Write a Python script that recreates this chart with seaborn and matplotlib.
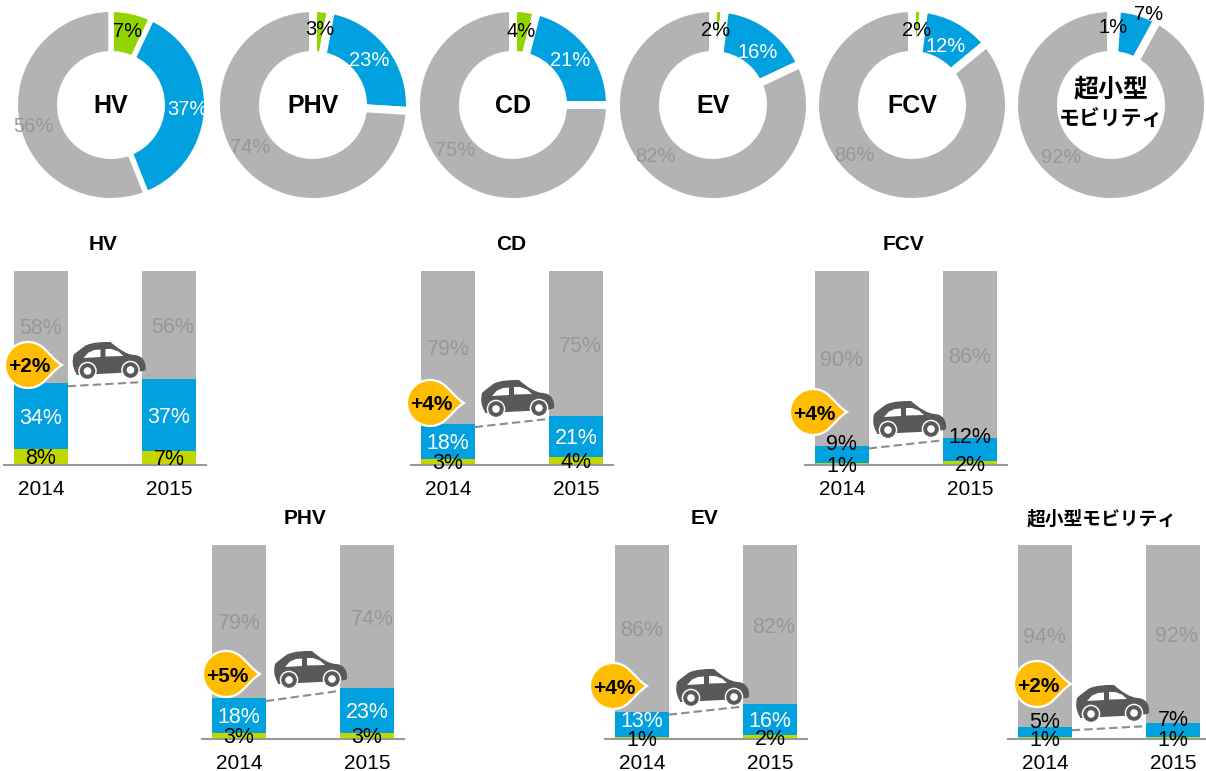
#!/usr/bin/env python3
# -*- coding: utf-8 -*-
import math

import matplotlib
matplotlib.use('Agg')
import matplotlib.pyplot as plt
import pandas as pd
import seaborn as sns
from matplotlib.patches import Circle, PathPatch
from matplotlib.path import Path
from matplotlib.transforms import Affine2D

# data
names = ['HV', 'PHV', 'CD', 'EV', 'FCV', '超小型モビリティ']
years = ['2014', '2015']
green_2014 = [8, 3, 3, 1, 1, 1]
blue_2014 = [34, 18, 18, 13, 9, 5]
gray_2014 = [58, 79, 79, 86, 90, 94]
green_2015 = [7, 3, 4, 2, 2, 1]
blue_2015 = [37, 23, 21, 16, 12, 7]
gray_2015 = [56, 74, 75, 82, 86, 92]

# colours
C_GREEN_PIE = '#92D400'
C_GREEN_BAR = '#C4D600'
C_BLUE = '#00A1DE'
C_GRAY = '#B3B3B3'
C_LABEL = '#979797'
C_CAR = '#595959'
C_BADGE = '#FFBC00'

# layout, pixels of the 1206x771 picture
W, H = 1206, 771
pie_cx = [111, 313, 513, 713, 912, 1111]
pie_cy = 105
pie_gap = [5.5, 8, 8, 8, 8, 8]
pie_nudge = [
    [(0, 1), (0, 2), (-3, 7)],
    [(0, 0), (-4, 2), (-7, -10)],
    [(-1, 2), (-3, 2), (-4, -8)],
    [(-2, 1), (0, 9), (-17, -13)],
    [(0, 1), (-3, 8), (-25, -18)],
    [(0, -2), (16, -18), (-31, -21)],
]
pie_blue_color = ['white', 'white', 'white', 'white', 'white', 'black']
bar_left = [13.9, 211.9, 420.9, 614.9, 814.9, 1017.9]
bar_base = [465, 739, 465, 739, 465, 739]
title_x = [103, 305, 511, 704, 903, 1102]
badge_xy = [(28, 365), (226, 674), (430, 403), (613, 686), (813, 412), (1037, 684)]
car_xy = [(72.5, 342), (274, 651), (481, 380), (676, 669), (873, 401), (1076, 685)]
# pixel shift of the blue labels that sit above their thin bar segment
blue_shift = [(0, 0), (0, 0), (0, 0), (5, 0), (12, 14), (12, 12)]
blue_color = ['white', 'white', 'white', 'white', 'black', 'black']
# the 2015 gray labels sit a little right of the bar centre
gray_shift_2015 = [4, 5, 4, 4, 0, 4]

sns.set_theme(style='white')
plt.rcParams['font.family'] = ['Liberation Sans', 'Noto Sans CJK JP', 'DejaVu Sans']

fig = plt.figure(figsize=(W / 100, H / 100), dpi=100)

overlay = fig.add_axes([0, 0, 1, 1], zorder=10)
overlay.set_xlim(0, W)
overlay.set_ylim(H, 0)
overlay.axis('off')


def add_axes_px(left, top, width, height):
    return fig.add_axes([left / W, 1 - (top + height) / H, width / W, height / H])


def draw_donut(i):
    half = 120
    ax = add_axes_px(pie_cx[i] - half, pie_cy - half, 2 * half, 2 * half)
    shares = [green_2015[i], blue_2015[i], gray_2015[i]]
    gap = pie_gap[i]
    # white edge eats half its width on the rim, so draw the ring a bit wider
    outer = 93 + gap / 2
    inner = 54 - gap / 2
    wedges, _ = ax.pie(shares, colors=[C_GREEN_PIE, C_BLUE, C_GRAY], startangle=90,
                       counterclock=False, radius=outer,
                       wedgeprops={'width': outer - inner, 'edgecolor': 'white',
                                   'linewidth': gap * 0.72})
    ax.set_xlim(-half, half)
    ax.set_ylim(-half, half)
    ax.set_aspect('equal')

    label_colors = ['black', pie_blue_color[i], C_LABEL]
    for j, (share, color) in enumerate(zip(shares, label_colors)):
        rad = math.radians((wedges[j].theta1 + wedges[j].theta2) / 2)
        x = 76 * math.cos(rad) + pie_nudge[i][j][0]
        y = 76 * math.sin(rad) - pie_nudge[i][j][1]
        ax.text(x, y, f'{share}%', color=color, fontsize=14.5, ha='center', va='center')

    if i == 5:
        ax.text(0, 16, '超小型', fontsize=18, fontweight='bold', color='black',
                ha='center', va='center')
        ax.text(0, -14, 'モビリティ', fontsize=15, fontweight='bold', color='black',
                ha='center', va='center')
    else:
        ax.text(0, -1, names[i], fontsize=18, fontweight='bold', color='black',
                ha='center', va='center')


def badge(x, y, text):
    r = 23
    arc = Path.arc(45, 315)
    verts = [(x + r * vx, y + r * vy) for vx, vy in arc.vertices]
    start = verts[0]
    tip = (x + 34, y)
    verts = verts + [(x + 22, y - 11), (x + 27, y - 4), tip,
                     (x + 27, y + 4), (x + 22, y + 11), start, start]
    codes = list(arc.codes) + [Path.CURVE4] * 6 + [Path.CLOSEPOLY]
    overlay.add_patch(PathPatch(Path(verts, codes), fc=C_BADGE, ec='white', lw=1.6))
    overlay.text(x + 1, y + 2, text, fontsize=15, fontweight='bold', color='black',
                 ha='center', va='center')


def car(x, y):
    move = Affine2D().translate(x, y) + overlay.transData
    body = [(4, 32), (-1, 24), (0, 18),
            (1, 13), (4, 10), (7, 8),
            (13, 3.5), (21, 0), (29, 0),
            (38, 0), (46, 7), (54, 12.5),
            (62, 13), (73, 14), (73.5, 24),
            (73, 28), (70, 30), (66, 30),
            (4, 33), (4, 32)]
    codes = [Path.MOVETO] + [Path.CURVE4] * 17 + [Path.LINETO, Path.CLOSEPOLY]
    overlay.add_patch(PathPatch(Path(body, codes), fc=C_CAR, ec='none', transform=move))
    win1 = [(11, 16), (16, 10.5), (22, 8), (28, 7.5), (28, 15), (11, 16)]
    win2 = [(33, 7), (39, 7), (46, 9.5), (51, 14), (33, 14.5), (33, 7)]
    for win in (win1, win2):
        overlay.add_patch(plt.Polygon(win, fc='white', ec='none', transform=move))
    for cx, cy in ((15, 29), (58, 28)):
        overlay.add_patch(Circle((cx, cy), 9.3, fc='white', ec='none', transform=move))
        overlay.add_patch(Circle((cx, cy), 7.8, fc=C_CAR, ec='none', transform=move))
        overlay.add_patch(Circle((cx, cy), 3.8, fc='white', ec='none', transform=move))


def draw_bars(i):
    pitch = 128
    ax_left = bar_left[i] - 10
    ax = add_axes_px(ax_left, bar_base[i] - 194.5, pitch * 1.578, 194.5)
    df = pd.DataFrame({
        'year': years,
        'green': [green_2014[i], green_2015[i]],
        'blue': [blue_2014[i], blue_2015[i]],
        'gray': [gray_2014[i], gray_2015[i]],
    })
    df['blue_top'] = df['green'] + df['blue']
    df['total'] = df['blue_top'] + df['gray']

    # stacked look: tallest first, shorter ones on top
    for col, color in [('total', C_GRAY), ('blue_top', C_BLUE), ('green', C_GREEN_BAR)]:
        sns.barplot(data=df, x='year', y=col, color=color, width=0.425, saturation=1,
                    linewidth=0, ax=ax)

    ax.set_xlim(-0.289, 1.289)
    ax.set_ylim(0, 100)
    ax.set_xlabel('')
    ax.set_ylabel('')
    ax.set_yticks([])
    ax.patch.set_alpha(0)
    sns.despine(ax=ax, left=True)
    ax.spines['bottom'].set_color('#999999')
    ax.spines['bottom'].set_linewidth(1.5)
    ax.tick_params(axis='x', length=0, pad=10.5, labelsize=15, labelcolor='black')

    for k in range(2):
        row = df.iloc[k]
        ax.annotate(f"{row['green']}%", (k, row['green'] / 2), xytext=(0, -2 if row['green'] < 3 else -1),
                    textcoords='offset pixels', ha='center', va='center', fontsize=15.5, color='black',
                    annotation_clip=False)
        dy = blue_shift[i][k] - 2
        ax.annotate(f"{row['blue']}%", (k, row['green'] + row['blue'] / 2), xytext=(0, dy),
                    textcoords='offset pixels', ha='center', va='center', fontsize=15.5,
                    color=blue_color[i])
        gray_off = (gray_shift_2015[i], -3) if k == 1 else (0, -2)
        ax.annotate(f"{row['gray']}%", (k, row['blue_top'] + row['gray'] / 2), xytext=gray_off,
                    textcoords='offset pixels', ha='center', va='center', fontsize=15.5,
                    color=C_LABEL)

    # dashed rise between the two blue tops, slightly under them
    ax.plot([0.21, 0.76], df['blue_top'] - 1.5, color='#8C8C8C', lw=1.5, ls=(0, (4, 2)), clip_on=False)

    overlay.text(title_x[i], bar_base[i] - 220, names[i], fontsize=13.5 if i == 5 else 15,
                 fontweight='bold', color='black', ha='center', va='center')
    badge(badge_xy[i][0], badge_xy[i][1], f'+{gray_2014[i] - gray_2015[i]}%')
    car(car_xy[i][0], car_xy[i][1])


for i in range(len(names)):
    draw_donut(i)
    draw_bars(i)

fig.savefig('out.png', dpi=100)
